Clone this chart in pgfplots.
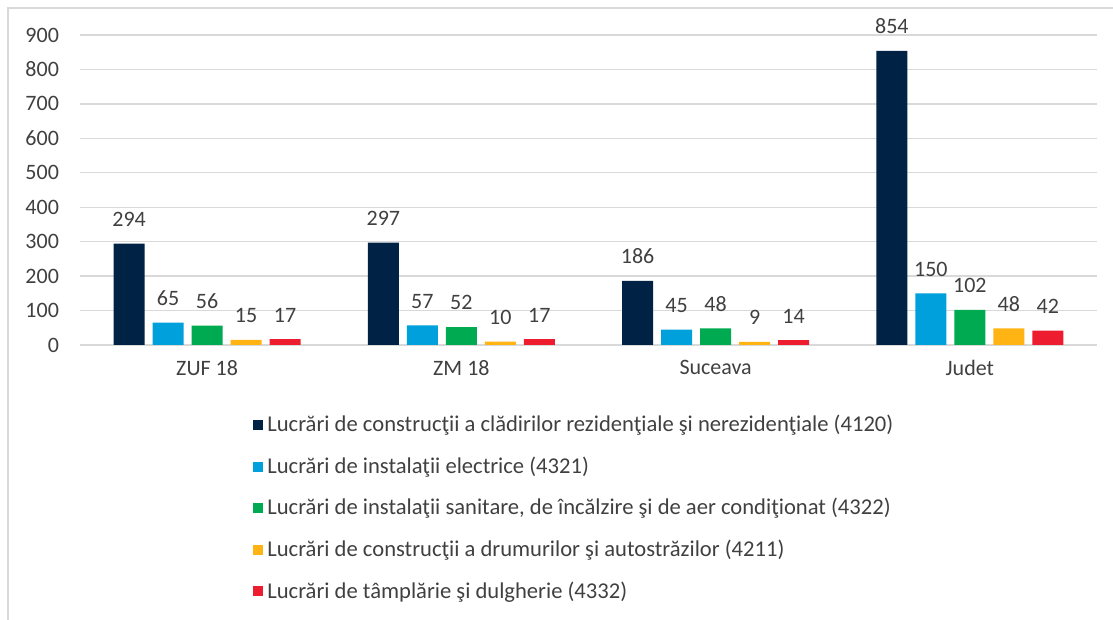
\documentclass[border=0pt]{standalone}
\usepackage{fontspec}
\setmainfont{Carlito}
\usepackage{pgfplots}
\pgfplotsset{compat=1.18}
\definecolor{c1}{RGB}{0,34,68}
\definecolor{c2}{RGB}{0,160,220}
\definecolor{c3}{RGB}{0,170,80}
\definecolor{c4}{RGB}{255,180,20}
\definecolor{c5}{RGB}{237,28,46}
\definecolor{txt}{RGB}{64,64,64}
\definecolor{gridc}{RGB}{217,217,217}
\begin{document}
\begin{tikzpicture}
\path[use as bounding box] (-40pt,-137.5pt) rectangle (516.5pt,172.5pt);
\draw[gridc, line width=0.7pt] (-36pt,-140pt) -- (-36pt,168.5pt) -- (520pt,168.5pt);
\begin{axis}[
  at={(0,0)}, anchor=south west,
  scale only axis, width=508.5pt, height=155pt,
  xmin=-0.5, xmax=3.5, ymin=0, ymax=900,
  ybar=4pt, bar width=15.5pt,
  xtick={0,1,2,3}, xticklabels={ZUF 18, ZM 18, Suceava, Judet},
  ytick={0,100,...,900},
  ymajorgrids, grid style={gridc, line width=0.7pt},
  axis line style={draw=none},
  major tick length=0pt,
  tick style={draw=none},
  /pgf/number format/assume math mode=true,
  ticklabel style={font=\fontsize{11}{13}\selectfont, color=txt},
  yticklabel style={xshift=-7pt},
  xticklabel style={yshift=-4pt},
  nodes near coords,
  every node near coord/.append style={font=\fontsize{11}{13}\selectfont, color=txt, yshift=5pt},
  legend style={at={(0.1642,-0.2)}, anchor=north west, draw=none, fill=none,
    font=\fontsize{11.3}{13.5}\selectfont, text=txt, row sep=7pt,
    cells={anchor=west}},
  legend image code/.code={\fill[draw=none] (0pt,-2.5pt) rectangle (5pt,2.5pt);},
  legend cell align=left,
]
\addplot[fill=c1, draw=none] coordinates {(0,294) (1,297) (2,186) (3,854)};
\addplot[fill=c2, draw=none] coordinates {(0,65) (1,57) (2,45) (3,150)};
\addplot[fill=c3, draw=none] coordinates {(0,56) (1,52) (2,48) (3,102)};
\addplot[fill=c4, draw=none] coordinates {(0,15) (1,10) (2,9) (3,48)};
\addplot[fill=c5, draw=none] coordinates {(0,17) (1,17) (2,14) (3,42)};
\legend{Lucrări de construcţii a clădirilor rezidenţiale şi nerezidenţiale (4120),
Lucrări de instalaţii electrice (4321),
Lucrări de instalaţii sanitare{,} de încălzire şi de aer condiţionat (4322),
Lucrări de construcţii a drumurilor şi autostrăzilor (4211),
Lucrări de tâmplărie şi dulgherie (4332)}
\end{axis}
\end{tikzpicture}
\end{document}
